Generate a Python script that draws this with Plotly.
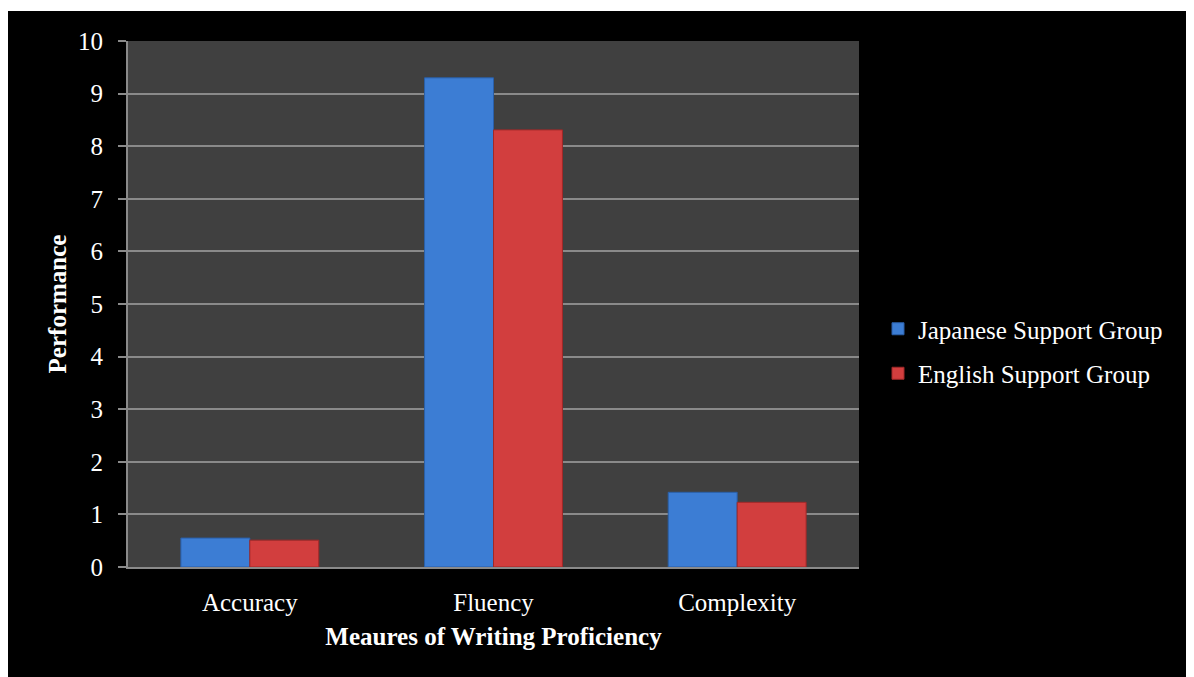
import plotly.graph_objects as go

categories = ["Accuracy", "Fluency", "Complexity"]
japanese = [0.55, 9.3, 1.42]
english = [0.51, 8.31, 1.23]
series_names = ["Japanese Support Group", "English Support Group"]
y_ticks = [0, 1, 2, 3, 4, 5, 6, 7, 8, 9, 10]

# page has an 8px body margin; figure sized to fill the rest
W, H = 1186, 669
L, T = 120, 33
R = W - (859 - 8)
B = H - (567 - 8)
pw, ph = W - L - R, H - T - B

font_family = "Liberation Serif, Times New Roman, serif"
FS = 25

fig = go.Figure()
fig.add_trace(go.Bar(
    x=categories, y=japanese, name=series_names[0], legendgroup="a",
    marker=dict(color="#3C7DD4", line=dict(color="#2A5FA8", width=1)),
))
fig.add_trace(go.Bar(
    x=categories, y=english, name=series_names[1], legendgroup="b",
    marker=dict(color="#D23E3E", line=dict(color="#A02828", width=1)),
))

# thin white strip at the very top
fig.add_shape(type="rect", xref="paper", yref="paper",
              x0=-L / pw - 0.05, x1=(W - L) / pw + 0.05,
              y0=1 + (T - 3) / ph, y1=1 + (T + 2) / ph,
              fillcolor="white", line=dict(width=0), layer="above")

fig.update_layout(
    width=W, height=H,
    margin=dict(l=L, r=R, t=T, b=B, pad=0),
    paper_bgcolor="black",
    plot_bgcolor="#404040",
    barmode="group",
    bargap=0.434,
    bargroupgap=0,
    font=dict(family=font_family, color="white", size=FS),
    showlegend=True,
    legend=dict(
        x=(878 - 8 - L) / pw, y=(567 - 351) / ph, xanchor="left", yanchor="middle",
        bgcolor="rgba(0,0,0,0)", font=dict(size=FS, color="white"),
        traceorder="grouped", tracegroupgap=9, itemwidth=30,
    ),
)
fig.update_yaxes(
    range=[0, 10], tickvals=y_ticks, ticktext=[str(v) for v in y_ticks],
    showgrid=True, gridcolor="#8A8A8A", gridwidth=2,
    showline=True, linecolor="#8A8A8A", linewidth=2,
    ticks="outside", ticklen=8, tickcolor="#8A8A8A", tickwidth=2,
    ticklabelstandoff=10,
    tickfont=dict(size=FS, color="white"),
    title=dict(text="<b>Performance</b>", font=dict(size=FS, color="white"), standoff=4),
    zeroline=False,
)
fig.update_xaxes(
    showline=True, linecolor="#8A8A8A", linewidth=2,
    ticks="", tickfont=dict(size=FS, color="white"),
    ticklabelstandoff=12,
    title=dict(text="<b>Meaures of Writing Proficiency</b>", font=dict(size=FS, color="white"), standoff=12),
)

fig.write_html("out.html")
